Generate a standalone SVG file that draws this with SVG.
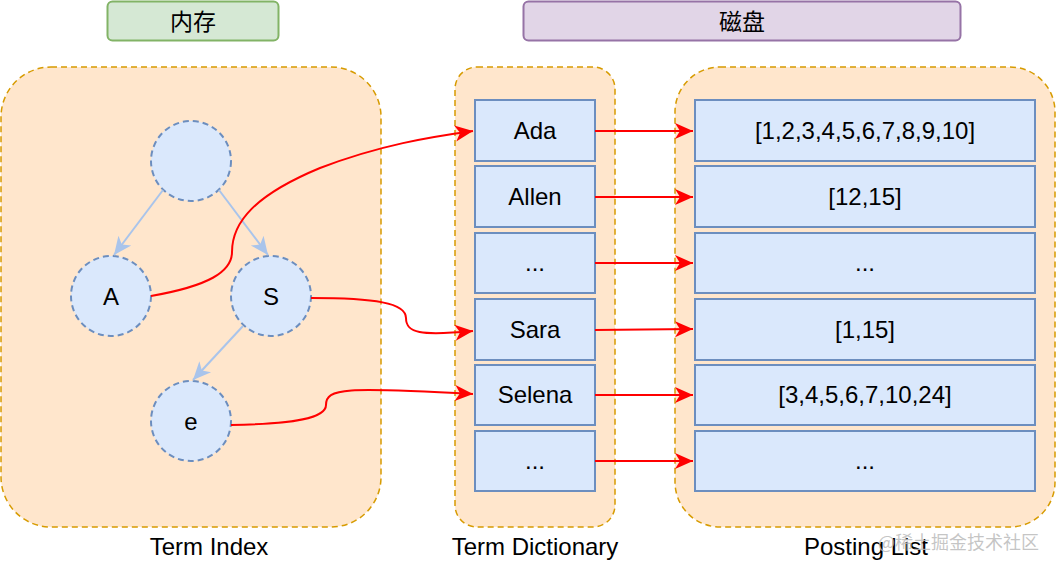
<svg xmlns="http://www.w3.org/2000/svg" width="1056" height="568" viewBox="0 0 1056 568">
<style>
text{font-family:"Liberation Sans","Noto Sans CJK SC",Arial,sans-serif;fill:#000;text-anchor:middle;dominant-baseline:central}
.t{font-size:24px}
.cn{font-size:23px;font-family:"Noto Sans CJK SC","Liberation Sans",sans-serif}
.cont{fill:#ffe6cc;stroke:#d79b00;stroke-width:1.5;stroke-dasharray:6 4}
.cell{fill:#dae8fc;stroke:#6c8ebf;stroke-width:2}
.circ{fill:#dae8fc;stroke:#6c8ebf;stroke-width:2;stroke-dasharray:6 4}
.tree{fill:none;stroke:#a9c4eb;stroke-width:2}
.red{fill:none;stroke:#ff0000;stroke-width:2}
.wm{font-size:18px;fill:#bbbbbb;fill-opacity:0.85;text-anchor:start;font-family:"Noto Sans CJK SC",sans-serif}
</style>
<defs>
<marker id="ar" markerWidth="20" markerHeight="20" viewBox="0 0 20 20" refX="18" refY="10" orient="auto" markerUnits="userSpaceOnUse">
<path d="M0,2 L18,10 L0,18 L5,10 Z" fill="#ff0000"/>
</marker>
<marker id="ab" markerWidth="20" markerHeight="20" viewBox="0 0 20 20" refX="18" refY="10" orient="auto" markerUnits="userSpaceOnUse">
<path d="M0,2 L18,10 L0,18 L5,10 Z" fill="#a9c4eb"/>
</marker>
</defs>

<g id="mem-label">
<rect x="107.5" y="1.5" width="171" height="39" rx="5" fill="#d5e8d4" stroke="#82b366" stroke-width="2"/>
<text class="cn" x="193" y="20">内存</text>
</g>
<g id="disk-label">
<rect x="523.5" y="1.5" width="437" height="39" rx="5" fill="#e1d5e7" stroke="#9673a6" stroke-width="2"/>
<text class="cn" x="742" y="20">磁盘</text>
</g>

<g id="term-index">
<rect class="cont" x="1" y="67" width="380" height="460" rx="50"/>
<text class="t" x="209" y="546">Term Index</text>
</g>
<g id="term-dictionary">
<rect class="cont" x="455" y="67" width="160" height="460" rx="22"/>
<text class="t" x="535" y="546">Term Dictionary</text>
</g>
<g id="posting-list">
<rect class="cont" x="675" y="67" width="380" height="460" rx="45"/>
<text class="t" x="866" y="546">Posting List</text>
</g>

<g id="node-root"><circle class="circ" cx="191" cy="161" r="40"/></g>
<g id="node-A"><circle class="circ" cx="111" cy="296" r="40"/><text class="t" x="111" y="296">A</text></g>
<g id="node-S"><circle class="circ" cx="271" cy="296" r="40"/><text class="t" x="271" y="296">S</text></g>
<g id="node-e"><circle class="circ" cx="191" cy="421" r="40"/><text class="t" x="191" y="421">e</text></g>

<g id="dict-ada"><rect class="cell" x="475" y="100" width="120" height="61"/><text class="t" x="535" y="130">Ada</text></g>
<g id="dict-allen"><rect class="cell" x="475" y="166" width="120" height="61"/><text class="t" x="535" y="196">Allen</text></g>
<g id="dict-dots1"><rect class="cell" x="475" y="233" width="120" height="60"/><text class="t" x="535" y="262">...</text></g>
<g id="dict-sara"><rect class="cell" x="475" y="299" width="120" height="61"/><text class="t" x="535" y="329">Sara</text></g>
<g id="dict-selena"><rect class="cell" x="475" y="365" width="120" height="60"/><text class="t" x="535" y="394">Selena</text></g>
<g id="dict-dots2"><rect class="cell" x="475" y="431" width="120" height="60"/><text class="t" x="535" y="460">...</text></g>

<g id="post-1"><rect class="cell" x="695" y="100" width="340" height="61"/><text class="t" x="865" y="130">[1,2,3,4,5,6,7,8,9,10]</text></g>
<g id="post-2"><rect class="cell" x="695" y="166" width="340" height="61"/><text class="t" x="865" y="196">[12,15]</text></g>
<g id="post-3"><rect class="cell" x="695" y="233" width="340" height="60"/><text class="t" x="865" y="262">...</text></g>
<g id="post-4"><rect class="cell" x="695" y="299" width="340" height="61"/><text class="t" x="865" y="329">[1,15]</text></g>
<g id="post-5"><rect class="cell" x="695" y="365" width="340" height="60"/><text class="t" x="865" y="394">[3,4,5,6,7,10,24]</text></g>
<g id="post-6"><rect class="cell" x="695" y="431" width="340" height="60"/><text class="t" x="865" y="460">...</text></g>

<g id="connectors">
<path class="tree" d="M163,190 L114,255" marker-end="url(#ab)"/>
<path class="tree" d="M219,190 L268,255" marker-end="url(#ab)"/>
<path class="tree" d="M243,326 L193,380" marker-end="url(#ab)"/>

<path class="red" d="M151,296 C208,286 232,272 232,252 C232,222 255,195 320,168 C380,145 430,137 473,131" marker-end="url(#ar)"/>
<path class="red" d="M311,298 C375,298 406,303 406,318 C406,333 420,336 473,331" marker-end="url(#ar)"/>
<path class="red" d="M231,425 C295,424 326,418 326,405 C326,388 345,387 473,394" marker-end="url(#ar)"/>

<path class="red" d="M595,131 L693,131" marker-end="url(#ar)"/>
<path class="red" d="M595,197 L693,197" marker-end="url(#ar)"/>
<path class="red" d="M595,263 L693,263" marker-end="url(#ar)"/>
<path class="red" d="M595,330 L693,329" marker-end="url(#ar)"/>
<path class="red" d="M595,395 L693,395" marker-end="url(#ar)"/>
<path class="red" d="M595,461 L693,461" marker-end="url(#ar)"/>
</g>

<text class="wm" x="878" y="541">@稀土掘金技术社区</text>
</svg>
